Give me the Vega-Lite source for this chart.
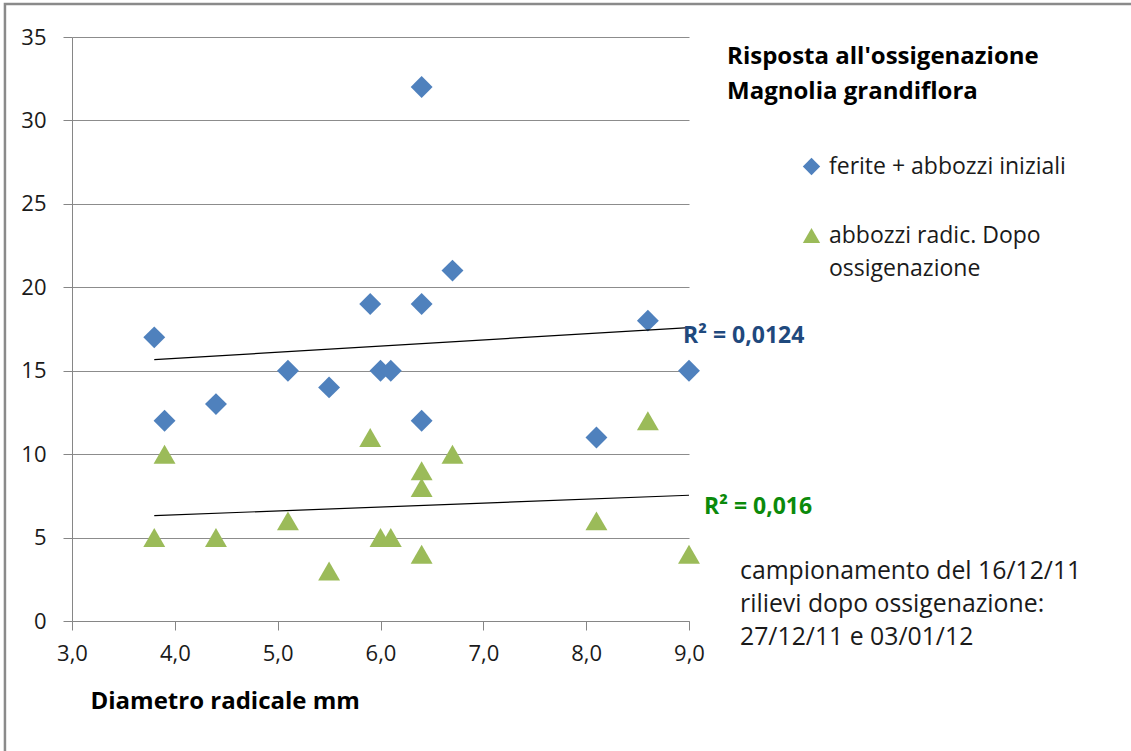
{
  "$schema": "https://vega.github.io/schema/vega-lite/v6.json",
  "width": 617,
  "height": 584,
  "autosize": {"type": "none"},
  "padding": {"left": 72, "top": 37, "right": 442, "bottom": 130},
  "background": "white",
  "config": {
    "font": "Open Sans",
    "view": {"stroke": null},
    "style": {"guide-label": {"lineHeight": 33}},
    "axis": {
      "labelFont": "Open Sans",
      "labelFontSize": 22,
      "labelColor": "#1a1a1a",
      "labelFlush": false,
      "domainColor": "#868686",
      "tickColor": "#868686",
      "gridColor": "#8c8c8c",
      "titleFont": "Open Sans"
    }
  },
  "data": {
    "values": [
      {"x": 3.8, "y": 17, "serie": "ferite + abbozzi iniziali"},
      {"x": 3.9, "y": 12, "serie": "ferite + abbozzi iniziali"},
      {"x": 4.4, "y": 13, "serie": "ferite + abbozzi iniziali"},
      {"x": 5.1, "y": 15, "serie": "ferite + abbozzi iniziali"},
      {"x": 5.5, "y": 14, "serie": "ferite + abbozzi iniziali"},
      {"x": 5.9, "y": 19, "serie": "ferite + abbozzi iniziali"},
      {"x": 6.0, "y": 15, "serie": "ferite + abbozzi iniziali"},
      {"x": 6.1, "y": 15, "serie": "ferite + abbozzi iniziali"},
      {"x": 6.4, "y": 32, "serie": "ferite + abbozzi iniziali"},
      {"x": 6.4, "y": 19, "serie": "ferite + abbozzi iniziali"},
      {"x": 6.4, "y": 12, "serie": "ferite + abbozzi iniziali"},
      {"x": 6.7, "y": 21, "serie": "ferite + abbozzi iniziali"},
      {"x": 8.1, "y": 11, "serie": "ferite + abbozzi iniziali"},
      {"x": 8.6, "y": 18, "serie": "ferite + abbozzi iniziali"},
      {"x": 9.0, "y": 15, "serie": "ferite + abbozzi iniziali"},
      {"x": 3.8, "y": 5, "serie": "abbozzi radic. Dopo ossigenazione"},
      {"x": 3.9, "y": 10, "serie": "abbozzi radic. Dopo ossigenazione"},
      {"x": 4.4, "y": 5, "serie": "abbozzi radic. Dopo ossigenazione"},
      {"x": 5.1, "y": 6, "serie": "abbozzi radic. Dopo ossigenazione"},
      {"x": 5.5, "y": 3, "serie": "abbozzi radic. Dopo ossigenazione"},
      {"x": 5.9, "y": 11, "serie": "abbozzi radic. Dopo ossigenazione"},
      {"x": 6.0, "y": 5, "serie": "abbozzi radic. Dopo ossigenazione"},
      {"x": 6.1, "y": 5, "serie": "abbozzi radic. Dopo ossigenazione"},
      {"x": 6.4, "y": 9, "serie": "abbozzi radic. Dopo ossigenazione"},
      {"x": 6.4, "y": 8, "serie": "abbozzi radic. Dopo ossigenazione"},
      {"x": 6.4, "y": 4, "serie": "abbozzi radic. Dopo ossigenazione"},
      {"x": 6.7, "y": 10, "serie": "abbozzi radic. Dopo ossigenazione"},
      {"x": 8.1, "y": 6, "serie": "abbozzi radic. Dopo ossigenazione"},
      {"x": 8.6, "y": 12, "serie": "abbozzi radic. Dopo ossigenazione"},
      {"x": 9.0, "y": 4, "serie": "abbozzi radic. Dopo ossigenazione"}
    ]
  },
  "layer": [
    {
      "data": {"values": [{}]},
      "mark": {"type": "rect", "clip": false, "fill": null, "filled": false, "stroke": "#8a8a8a", "strokeWidth": 2.5},
      "encoding": {
        "x": {"datum": 2.348, "type": "quantitative"},
        "x2": {"datum": 15},
        "y": {"datum": 36.98, "type": "quantitative"},
        "y2": {"datum": -10}
      }
    },
    {
      "mark": {"type": "point", "filled": true, "opacity": 1, "size": 480},
      "encoding": {
        "x": {
          "field": "x", "type": "quantitative",
          "scale": {"domain": [3, 9], "nice": false, "zero": false},
          "axis": {
            "values": [3, 4, 5, 6, 7, 8, 9],
            "labelExpr": "replace(format(datum.value, '.1f'), '.', ',')",
            "labelFlush": false,
            "grid": false,
            "tickSize": 9,
            "labelPadding": 13,
            "title": "Diametro radicale mm",
            "titleFontSize": 24,
            "titleFontWeight": "bold",
            "titleColor": "#000000",
            "titleAnchor": "start",
            "titleAlign": "left",
            "titleBaseline": "alphabetic",
            "titleX": 18,
            "titleY": 87
          }
        },
        "y": {
          "field": "y", "type": "quantitative",
          "scale": {"domain": [0, 35], "nice": false},
          "axis": {
            "values": [0, 5, 10, 15, 20, 25, 30, 35],
            "labelFlush": false,
            "grid": true,
            "tickSize": 9,
            "labelPadding": 17,
            "title": null
          }
        },
        "color": {
          "field": "serie", "type": "nominal",
          "scale": {
            "domain": ["ferite + abbozzi iniziali", "abbozzi radic. Dopo ossigenazione"],
            "range": ["#4F81BD", "#9BBB59"]
          },
          "legend": {
            "orient": "none",
            "legendX": 728,
            "legendY": 118,
            "title": null,
            "padding": 0,
            "rowPadding": 45,
            "symbolSize": 300,
            "labelFontSize": 23,
            "labelFont": "Open Sans",
            "labelColor": "#1a1a1a",
            "labelOffset": 6,
            "labelLimit": 400,
            "labelExpr": "datum.label == 'abbozzi radic. Dopo ossigenazione' ? ['abbozzi radic. Dopo', 'ossigenazione'] : datum.label",
            "encode": {
              "labels": {
                "enter": {"lineHeight": {"value": 33}},
                "update": {
                  "lineHeight": {"value": 33},
                  "dy": {"signal": "datum.index == 1 ? 16 : 0"}
                }
              }
            }
          }
        },
        "shape": {
          "field": "serie", "type": "nominal",
          "scale": {
            "domain": ["ferite + abbozzi iniziali", "abbozzi radic. Dopo ossigenazione"],
            "range": ["diamond", "triangle-up"]
          },
          "legend": null
        }
      }
    },
    {
      "transform": [{"regression": "y", "on": "x", "groupby": ["serie"]}],
      "mark": {"type": "line", "color": "#000000", "strokeWidth": 1.2},
      "encoding": {
        "x": {"field": "x", "type": "quantitative"},
        "y": {"field": "y", "type": "quantitative"},
        "detail": {"field": "serie"}
      }
    },
    {
      "data": {"values": [{}]},
      "mark": {"type": "text", "clip": false, "align": "left", "baseline": "alphabetic", "font": "Open Sans", "fontSize": 24, "fontWeight": "bold", "fill": "#000000", "lineHeight": 35},
      "encoding": {
        "x": {"datum": 9.37, "type": "quantitative"},
        "y": {"datum": 33.4, "type": "quantitative"},
        "text": {"value": ["Risposta all'ossigenazione", "Magnolia grandiflora"]}
      }
    },
    {
      "data": {"values": [{}]},
      "mark": {"type": "text", "clip": false, "align": "left", "baseline": "alphabetic", "font": "Open Sans", "fontSize": 23, "fontWeight": "bold", "fill": "#1F497D"},
      "encoding": {
        "x": {"datum": 8.942, "type": "quantitative"},
        "y": {"datum": 16.66, "type": "quantitative"},
        "text": {"value": "R² = 0,0124"}
      }
    },
    {
      "data": {"values": [{}]},
      "mark": {"type": "text", "clip": false, "align": "left", "baseline": "alphabetic", "font": "Open Sans", "fontSize": 23, "fontWeight": "bold", "fill": "#0B8A0B"},
      "encoding": {
        "x": {"datum": 9.146, "type": "quantitative"},
        "y": {"datum": 6.41, "type": "quantitative"},
        "text": {"value": "R² = 0,016"}
      }
    },
    {
      "data": {"values": [{}]},
      "mark": {"type": "text", "clip": false, "align": "left", "baseline": "alphabetic", "font": "Open Sans", "fontSize": 24.8, "fontWeight": "normal", "fill": "#1a1a1a", "lineHeight": 33},
      "encoding": {
        "x": {"datum": 9.496, "type": "quantitative"},
        "y": {"datum": 2.517, "type": "quantitative"},
        "text": {"value": ["campionamento del 16/12/11", "rilievi dopo ossigenazione:", "27/12/11 e 03/01/12"]}
      }
    }
  ]
}
